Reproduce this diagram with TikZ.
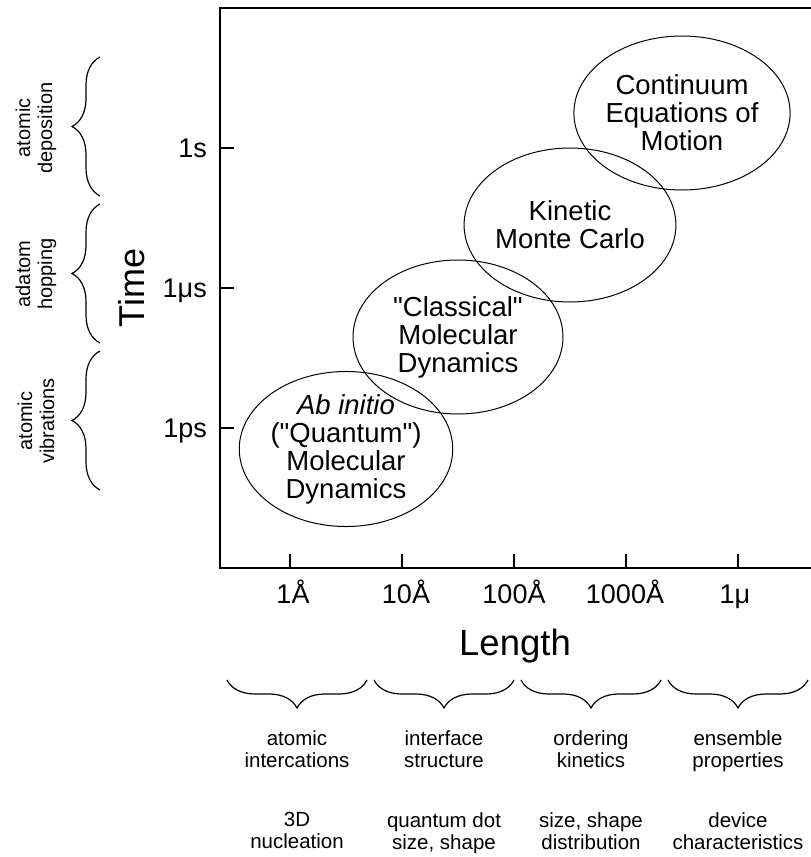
\documentclass[tikz,border=0pt]{standalone}
\usepackage{fontspec}
\setmainfont{Liberation Sans}[Ligatures=TeXOff]
\usetikzlibrary{shapes.geometric,decorations.pathreplacing}

\begin{document}
\begin{tikzpicture}[x=1pt,y=-1pt,
    axis/.style={line width=1.4pt},
    axtick/.style={line width=1.3pt},
    ticklabel/.style={inner sep=0pt,font=\fontsize{27}{30}\selectfont},
    regime/.style={draw,ellipse,line width=1pt,minimum width=210pt,
                   minimum height=154pt,inner sep=0pt,align=center,
                   font=\fontsize{27.5}{28}\selectfont},
    scalebrace/.style={decorate,line width=1.2pt,
                       decoration={brace,amplitude=28pt}},
    scaletext/.style={inner sep=0pt,align=center,
                      font=\fontsize{20.5}{22}\selectfont}]
    \useasboundingbox (0,0) rectangle (811,857);

    %frame
    \coordinate (top end) at (811,8);
    \coordinate (corner) at (220,568);
    \coordinate (bottom end) at (811,568);
    \draw[axis] (top end) -- (220,8) -- (corner) -- (bottom end);

    %time axis
    \draw[axtick] (220,148) -- (234,148);
    \draw[axtick] (220,288) -- (234,288);
    \draw[axtick] (220,428) -- (234,428);
    \node[ticklabel,anchor=base east] (t s) at (207,157.5) {1s};
    \node[ticklabel,anchor=base east] (t mus) at (207,297.5) {1μs};
    \node[ticklabel,anchor=base east] (t ps) at (207,437.5) {1ps};
    \node[rotate=90,inner sep=0pt,font=\fontsize{36}{40}\selectfont] (time) at (132,288) {Time};

    %length axis
    \draw[axtick] (290,568) -- (290,554);
    \draw[axtick] (402,568) -- (402,554);
    \draw[axtick] (514,568) -- (514,554);
    \draw[axtick] (626,568) -- (626,554);
    \draw[axtick] (738,568) -- (738,554);
    \node[ticklabel,anchor=base] (l 1) at (293,603) {1Å};
    \node[ticklabel,anchor=base] (l 10) at (406,603) {10Å};
    \node[ticklabel,anchor=base] (l 100) at (514,603) {100Å};
    \node[ticklabel,anchor=base] (l 1000) at (625,603) {1000Å};
    \node[ticklabel,anchor=base] (l mu) at (735,603) {1μ};
    \node[anchor=base,inner sep=0pt,font=\fontsize{36.5}{40}\selectfont] (length) at (515,655) {Length};

    %methods
    \node[regime] (ab initio) at (346,449) {\textit{Ab initio}\\("Quantum")\\Molecular\\Dynamics};
    \node[regime] (classical) at (458,337) {"Classical"\\Molecular\\Dynamics};
    \node[regime] (kmc) at (570,225) {Kinetic\\Monte Carlo};
    \node[regime] (continuum) at (682,113) {Continuum\\Equations of\\Motion};

    %time processes
    \draw[scalebrace] (100,196) -- (100,57);
    \draw[scalebrace] (100,343) -- (100,204);
    \draw[scalebrace] (100,490) -- (100,351);
    \node[scaletext,rotate=90,font=\fontsize{20}{22}\selectfont] (deposition) at (36,128) {atomic\\deposition};
    \node[scaletext,rotate=90,font=\fontsize{20}{22}\selectfont] (hopping) at (36,274) {adatom\\hopping};
    \node[scaletext,rotate=90,font=\fontsize{20}{22}\selectfont] (vibrations) at (36,421) {atomic\\vibrations};

    %length processes
    \draw[scalebrace] (367,680) -- (227,680);
    \draw[scalebrace] (514,680) -- (374,680);
    \draw[scalebrace] (661,680) -- (521,680);
    \draw[scalebrace] (808,680) -- (668,680);
    \node[scaletext,anchor=north] (interactions) at (297,730) {atomic\\intercations};
    \node[scaletext,anchor=north] (interface) at (444,730) {interface\\structure};
    \node[scaletext,anchor=north] (ordering) at (591,730) {ordering\\kinetics};
    \node[scaletext,anchor=north] (ensemble) at (738,730) {ensemble\\properties};
    \node[scaletext,anchor=north] (nucleation) at (297,812) {3D\\nucleation};
    \node[scaletext,anchor=north] (dot size) at (444,812) {quantum dot\\size, shape};
    \node[scaletext,anchor=north] (distribution) at (591,812) {size, shape\\distribution};
    \node[scaletext,anchor=north] (device) at (738,812) {device\\characteristics};

\end{tikzpicture}
\end{document}
